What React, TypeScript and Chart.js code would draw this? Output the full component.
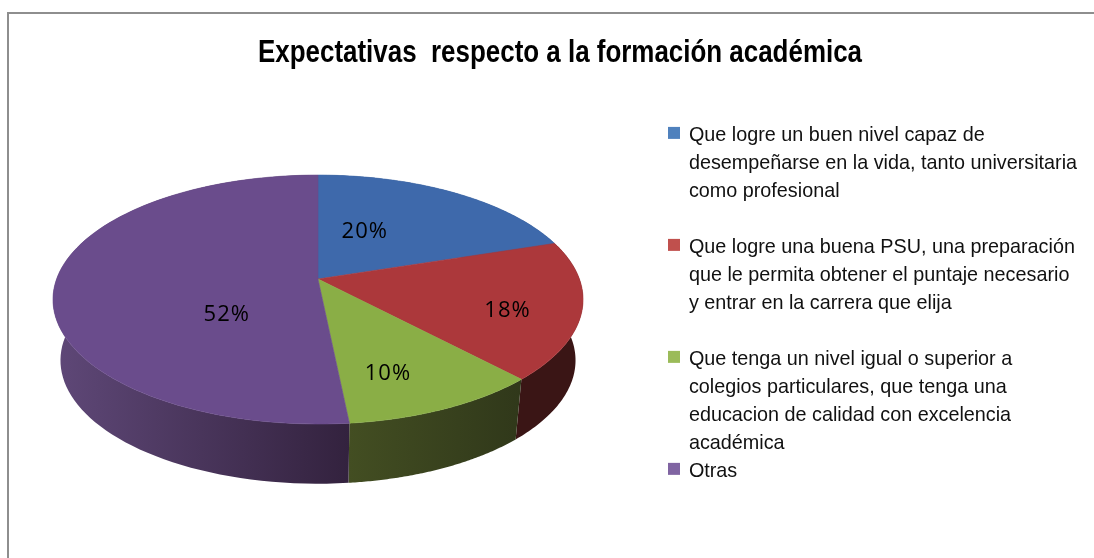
import React, { useEffect, useRef } from "react";
import { Chart, registerables } from "chart.js";

Chart.register(...registerables);

const chartTitle = "Expectativas  respecto a la formación académica";
const categories: string[][] = [
  ["Que logre un buen nivel capaz de", "desempeñarse en la vida, tanto universitaria", "como profesional", ""],
  ["Que logre una buena PSU, una preparación", "que le permita obtener el puntaje necesario", "y entrar en la carrera que elija", ""],
  ["Que tenga un nivel igual o superior a", "colegios particulares, que tenga una", "educacion de calidad con excelencia", "académica"],
  ["Otras"],
];
const shares = [20, 18, 10.4, 51.6];
const topColors = ["#3e69ab", "#ac383b", "#8aae46", "#6a4c8c"];
const legendColors = ["#4f81bd", "#c0504d", "#9bbb59", "#8064a2"];
const wallLeft = ["#2a4675", "#3a1515", "#434e22", "#5f4878"];
const wallRight = ["#2a4675", "#3a1515", "#30381a", "#33223e"];
const labelNudges = [
  [-32, 3],
  [47, 15],
  [5, 29],
  [53, 32],
];

const PIE = { x: 318, y: 279, a: 261.4, b: 121.1, k: 0.165 };
const FLOOR = { x: 318, y: 340, a: 254, b: 120, k: 0.165 };
const TITLE_CENTER = 560;
const TITLE_SQUEEZE = 0.8366;

type Plane = typeof PIE;
const project = (p: Plane, angle: number, r = 1) => {
  const u = r * Math.cos(angle);
  const v = r * Math.sin(angle);
  const d = 1 - p.k * v;
  return { x: p.x + (p.a * u) / d, y: p.y + (p.b * v) / d };
};

const pie3d = {
  id: "pie3d",
  afterLayout(chart: any) {
    const ctx: any = chart.ctx;
    const lg = chart.legend;
    lg.left = 668;
    lg.right = 1094;
    lg.top = 123;
    lg.bottom = 558;
    const tb = chart.titleBlock;
    tb.left = TITLE_CENTER * 2 - 1094;
    tb.right = 1094;
    if (!tb.__wrapped) {
      tb.__wrapped = true;
      const drawTitle = tb.draw;
      tb.draw = function (...args: any[]) {
        ctx.save();
        ctx.translate(TITLE_CENTER, 0);
        ctx.scale(TITLE_SQUEEZE, 1);
        ctx.translate(-TITLE_CENTER, 0);
        drawTitle.apply(this, args);
        ctx.restore();
      };
      const drawLegend = lg.draw;
      lg.draw = function (...args: any[]) {
        const fillText = ctx.fillText;
        ctx.fillText = (t: string, x: number, y: number) => fillText.call(ctx, t, x - 1, y + 3);
        drawLegend.apply(this, args);
        delete ctx.fillText;
      };
    }
  },
  beforeDatasetsDraw(chart: any) {
    const ctx: CanvasRenderingContext2D = chart.ctx;
    const arcs = chart.getDatasetMeta(0).data;
    const steps = 90;
    const sample = (plane: Plane, s: number, e: number) => {
      const pts = [];
      for (let i = 0; i <= steps; i++) pts.push(project(plane, s + ((e - s) * i) / steps));
      return pts;
    };
    arcs.forEach((arc: any, i: number) => {
      const { startAngle: s, endAngle: e } = arc.getProps(["startAngle", "endAngle"], true);
      const top = sample(PIE, s, e);
      const bottom = sample(FLOOR, s, e).reverse();
      const xs = [...top, ...bottom].map((p) => p.x);
      const g = ctx.createLinearGradient(Math.min(...xs), 0, Math.max(...xs), 0);
      g.addColorStop(0, wallLeft[i]);
      g.addColorStop(1, wallRight[i]);
      ctx.beginPath();
      [...top, ...bottom].forEach((p, n) => (n ? ctx.lineTo(p.x, p.y) : ctx.moveTo(p.x, p.y)));
      ctx.closePath();
      ctx.fillStyle = g;
      ctx.fill();
    });
    arcs.forEach((arc: any, i: number) => {
      const { startAngle: s, endAngle: e } = arc.getProps(["startAngle", "endAngle"], true);
      ctx.beginPath();
      ctx.moveTo(PIE.x, PIE.y);
      sample(PIE, s, e).forEach((p) => ctx.lineTo(p.x, p.y));
      ctx.closePath();
      ctx.fillStyle = topColors[i];
      ctx.strokeStyle = topColors[i];
      ctx.lineWidth = 0.6;
      ctx.fill();
      ctx.stroke();
    });
    ctx.save();
    ctx.fillStyle = "#000";
    ctx.font = '22px "Open Sans", sans-serif';
    (ctx as any).letterSpacing = "1px";
    ctx.textAlign = "center";
    ctx.textBaseline = "middle";
    arcs.forEach((arc: any, i: number) => {
      const { startAngle: s, endAngle: e } = arc.getProps(["startAngle", "endAngle"], true);
      const p = project(PIE, (s + e) / 2, 0.55);
      ctx.fillText(`${Math.round(shares[i])}%`, p.x + labelNudges[i][0], p.y + labelNudges[i][1]);
    });
    ctx.restore();
    return false;
  },
};

export default function App() {
  const ref = useRef<HTMLCanvasElement>(null);
  useEffect(() => {
    const chart = new Chart(ref.current!, {
      type: "pie",
      data: {
        labels: categories as any,
        datasets: [{ data: shares, backgroundColor: legendColors, borderWidth: 0 }],
      },
      plugins: [pie3d],
      options: {
        animation: false,
        responsive: false,
        layout: { padding: 0 },
        plugins: {
          tooltip: { enabled: false },
          title: {
            display: true,
            text: chartTitle,
            color: "#000",
            font: { family: '"Liberation Sans", Arial, sans-serif', size: 31, weight: "bold" },
            padding: { top: 35, bottom: 10 },
          },
          legend: {
            position: "right",
            align: "start",
            labels: {
              boxWidth: 12,
              boxHeight: 12,
              padding: 0,
              color: "#111",
              font: { family: '"Liberation Sans", Arial, sans-serif', size: 19.8, lineHeight: 1.414 },
              generateLabels: () =>
                categories.map((text, i) => ({
                  text: text as any,
                  fillStyle: legendColors[i],
                  strokeStyle: legendColors[i],
                  lineWidth: 0,
                  hidden: false,
                  index: i,
                  fontColor: "#111",
                })),
            },
          },
        },
      } as any,
    });
    return () => chart.destroy();
  }, []);
  return (
    <div style={{ position: "fixed", left: 0, top: 0, width: 1094, height: 558, background: "#fff", overflow: "hidden" }}>
      <canvas ref={ref} width={1094} height={558} style={{ display: "block", filter: "blur(0.3px)" }} />
      <div style={{ position: "absolute", left: 7, top: 12, right: -4, bottom: -4, border: "2px solid #8e8e8e", pointerEvents: "none" }} />
    </div>
  );
}
